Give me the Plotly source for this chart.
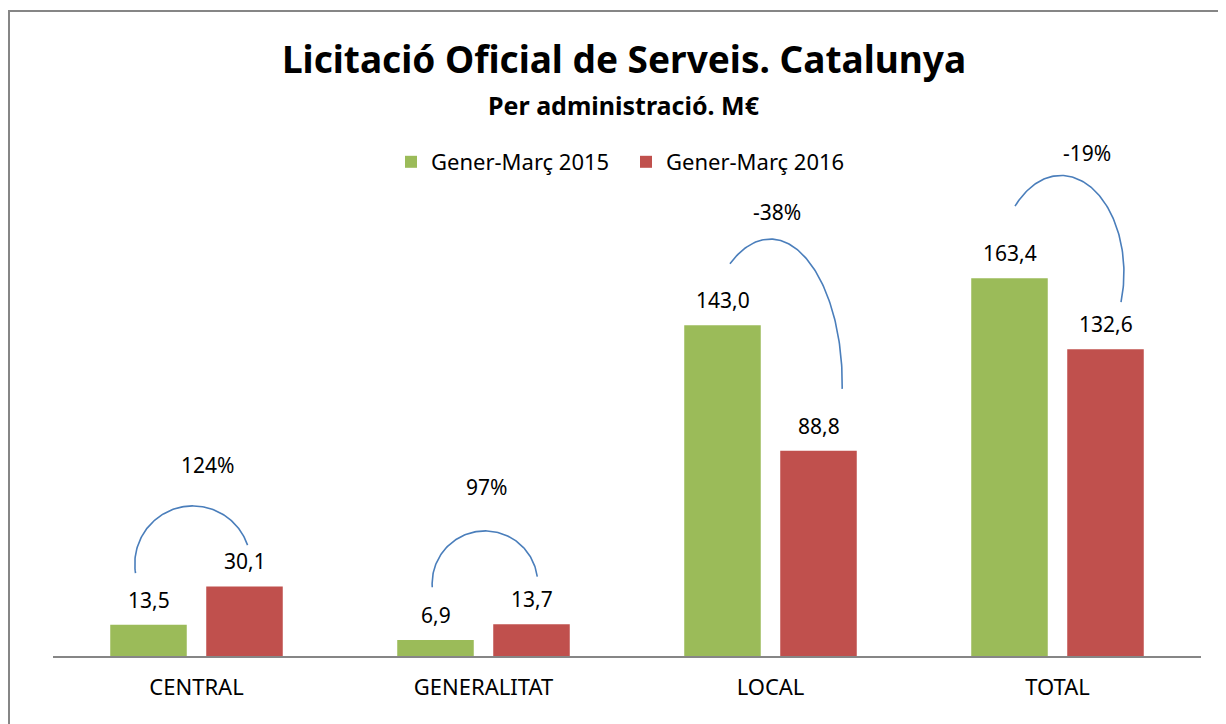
import numpy as np
import plotly.graph_objects as go

# ---- data ----
categories = ["CENTRAL", "GENERALITAT", "LOCAL", "TOTAL"]
series_names = ["Gener-Març 2015", "Gener-Març 2016"]
values_2015 = [13.5, 6.9, 143.0, 163.4]
values_2016 = [30.1, 13.7, 88.8, 132.6]
pct_labels = ["124%", "97%", "-38%", "-19%"]

# ---- geometry / style ----
OFF = 8  # page body margin
W, H = 1218, 716
ML, MT = 45, 93
PW, PH = 1148, 555
MR, MB = W - ML - PW, H - MT - PH
YMAX = 240
GREEN, RED, BLUE, GRAY = "#9BBB59", "#C0504D", "#4A7EBB", "#868686"
FONT = "Noto Sans"

idx = list(range(len(categories)))
BARGAP, GROUPGAP = 0.331, 0.203
slot = (1 - BARGAP) / 2  # width of one bar slot in category units


def fmt(v):
    return f"{v:.1f}".replace(".", ",")


def px2x(px):  # page pixel -> paper x
    return (px - OFF - ML) / PW


def py2y(py):  # page pixel -> paper y
    return (OFF + MT + PH - py) / PH


fig = go.Figure()
fig.add_trace(go.Bar(x=idx, y=values_2015, name=series_names[0], legend="legend",
                     marker=dict(color=GREEN, line=dict(width=0)), hoverinfo="y"))
fig.add_trace(go.Bar(x=idx, y=values_2016, name=series_names[1], legend="legend2",
                     marker=dict(color=RED, line=dict(width=0)), hoverinfo="y"))

# comparison arcs: (center offset from category, center y, rx, ry, start deg, end deg)
arcs = [
    (-0.013, 39.8, 0.202, 25.1, 19, 189),
    (0.005, 31.3, 0.184, 22.8, 7.6, 184),
    (-0.001, 117.7, 0.251, 62.6, -2, 124),
    (0.012, 165.7, 0.2195, 42.1, -17.5, 136.8),
]
for i, (dx, cy, rx, ry, a0, a1) in enumerate(arcs):
    t = np.radians(np.linspace(a0, a1, 120))
    fig.add_trace(go.Scatter(x=idx[i] + dx + rx * np.cos(t), y=cy + ry * np.sin(t),
                             mode="lines", line=dict(color=BLUE, width=1.6),
                             showlegend=False, hoverinfo="skip"))

annotations = []
for i in idx:
    annotations.append(dict(x=i - slot / 2, y=values_2015[i], text=fmt(values_2015[i]),
                            showarrow=False, yanchor="middle", yshift=25,
                            font=dict(size=21, color="#000", family=FONT)))
    annotations.append(dict(x=i + slot / 2, y=values_2016[i], text=fmt(values_2016[i]),
                            showarrow=False, yanchor="middle", yshift=25,
                            font=dict(size=21, color="#000", family=FONT)))

pct_pos = [(0.040, 82.7), (1.009, 73.2), (2.023, 192.2), (3.103, 217.7)]
for i, (px_, py_) in enumerate(pct_pos):
    annotations.append(dict(x=px_, y=py_, text=pct_labels[i], showarrow=False,
                            yanchor="middle", font=dict(size=21, color="#000", family=FONT)))

annotations.append(dict(xref="paper", yref="paper", x=px2x(624), y=py2y(105),
                        text="<b>Per administració. M€</b>", showarrow=False,
                        xanchor="center", yanchor="middle",
                        font=dict(size=25, color="#000", family=FONT)))

legend_common = dict(orientation="h", xanchor="left", yanchor="middle", y=py2y(162),
                     font=dict(size=22, family=FONT, color="#000"),
                     bgcolor="rgba(0,0,0,0)")

fig.update_layout(
    width=W, height=H,
    margin=dict(l=ML, r=MR, t=MT, b=MB),
    paper_bgcolor="white", plot_bgcolor="white",
    barmode="group", bargap=BARGAP, bargroupgap=GROUPGAP,
    title=dict(text="<b>Licitació Oficial de Serveis. Catalunya</b>",
               x=(624 - OFF) / W, xanchor="center", y=1 - (60 - OFF) / H, yanchor="middle",
               xref="container", yref="container",
               font=dict(size=37, color="#000", family=FONT)),
    font=dict(family=FONT, color="#000"),
    showlegend=True,
    legend=dict(x=px2x(391), **legend_common),
    legend2=dict(x=px2x(626), **legend_common),
    xaxis=dict(range=[-0.5, 3.5], tickvals=idx, ticktext=categories, showline=True,
               linecolor=GRAY, linewidth=1.5, showgrid=False, zeroline=False, ticks="",
               ticklabelstandoff=11,
               tickfont=dict(size=22, family=FONT, color="#000"), fixedrange=True),
    yaxis=dict(range=[0, YMAX], visible=False, showgrid=False, zeroline=False, fixedrange=True),
    annotations=annotations,
    shapes=[dict(type="rect", xref="paper", yref="paper",
                 x0=px2x(9), y0=py2y(11), x1=px2x(1260), y1=py2y(760),
                 line=dict(color=GRAY, width=2), fillcolor="rgba(0,0,0,0)", layer="below")],
)

fig.write_html("out.html")
